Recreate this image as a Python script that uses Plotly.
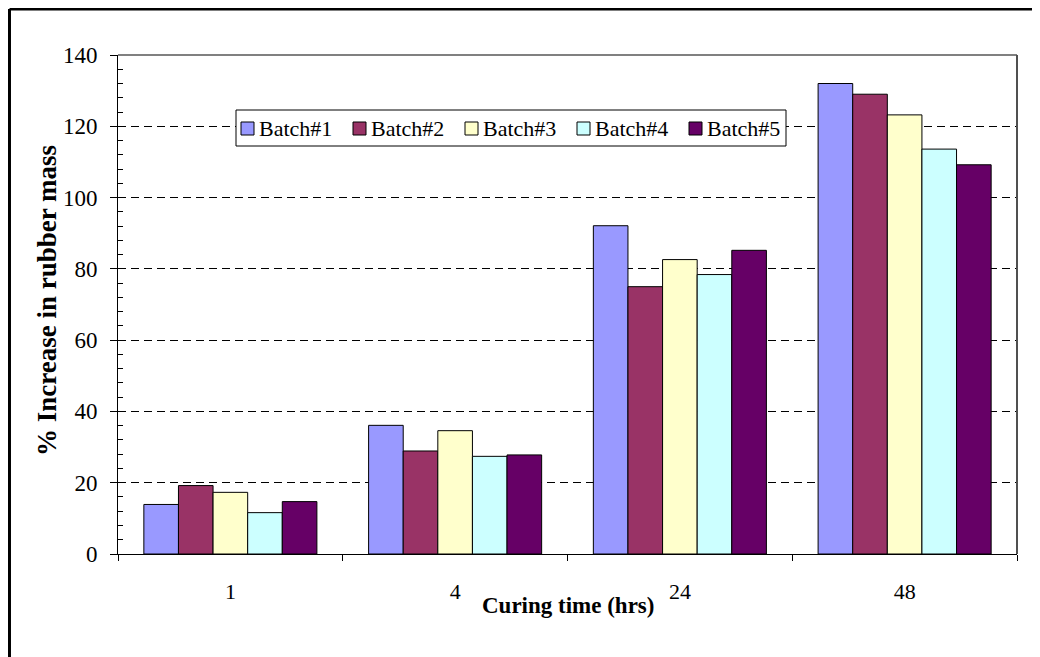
import plotly.graph_objects as go

# curing time categories (hrs)
categories = ["1", "4", "24", "48"]
batches = ["Batch#1", "Batch#2", "Batch#3", "Batch#4", "Batch#5"]

# % increase in rubber mass
batch1 = [13.9, 36.1, 92.1, 132.0]
batch2 = [19.2, 28.9, 75.0, 129.0]
batch3 = [17.3, 34.6, 82.6, 123.2]
batch4 = [11.6, 27.4, 78.4, 113.6]
batch5 = [14.7, 27.8, 85.2, 109.2]
values = [batch1, batch2, batch3, batch4, batch5]

colors = ["#9999FF", "#993366", "#FFFFCC", "#CCFFFF", "#660066"]
FONT = "Liberation Serif, Times New Roman, serif"

# plot area in page pixels (left, top, right, bottom)
PL, PT, PR, PB = 118, 55, 1017, 554


def px2x(px):
    return (px - PL) / (PR - PL)


def px2y(py):
    return (PB - py) / (PB - PT)


fig = go.Figure()
for name, vals, col in zip(batches, values, colors):
    fig.add_trace(go.Bar(
        x=categories, y=vals, name=name,
        marker=dict(color=col, line=dict(color="black", width=1)),
    ))

# page body has an 8px margin, so the figure is a bit smaller
fig.update_layout(
    width=1032, height=649,
    margin=dict(l=110, r=23, t=47, b=103),
    paper_bgcolor="white", plot_bgcolor="white",
    font=dict(family=FONT, size=22, color="black"),
    barmode="group", bargap=0.23, bargroupgap=0,
    showlegend=False,
)

fig.update_xaxes(
    type="category", tickson="boundaries",
    showline=True, linecolor="black", linewidth=1,
    ticks="outside", ticklen=6, tickcolor="black",
    ticklabelstandoff=18, showgrid=False, zeroline=False,
    tickfont=dict(family=FONT, size=22, color="black"),
)

fig.update_yaxes(
    range=[0, 140], dtick=20, tick0=0,
    showline=True, linecolor="black", linewidth=1,
    ticks="outside", ticklen=7, tickcolor="black",
    ticklabelstandoff=8, zeroline=False,
    showgrid=True, gridcolor="black", gridwidth=1, griddash="8px,5px",
    minor=dict(dtick=4, ticks="inside", ticklen=5, tickcolor="black", showgrid=False),
    tickfont=dict(family=FONT, size=23, color="black"),
)

# axis titles
fig.add_annotation(
    text="<b>Curing time (hrs)</b>", xref="paper", yref="paper",
    x=0.5, y=-0.104, xanchor="center", yanchor="middle", showarrow=False,
    font=dict(family=FONT, size=23, color="black"),
)
fig.add_annotation(
    text="<b>% Increase in rubber mass</b>", xref="paper", yref="paper",
    x=-0.079, y=0.509, xanchor="center", yanchor="middle", showarrow=False,
    textangle=-90, font=dict(family=FONT, size=27, color="black"),
)

# grey plot-area box on top/right
fig.add_shape(type="line", xref="paper", yref="paper", x0=0, x1=1, y0=1, y1=1,
              line=dict(color="#808080", width=2), layer="above")
fig.add_shape(type="line", xref="paper", yref="paper", x0=1, x1=1, y0=0, y1=1,
              line=dict(color="#505050", width=2), layer="above")

# legend drawn by hand (Excel style: small swatch, tight text)
fig.add_shape(type="rect", xref="paper", yref="paper",
              x0=px2x(236), x1=px2x(786), y0=px2y(146), y1=px2y(110),
              line=dict(color="black", width=1), fillcolor="white", layer="above")
for i, (name, col) in enumerate(zip(batches, colors)):
    sx = 241 + i * 112
    fig.add_shape(type="rect", xref="paper", yref="paper",
                  x0=px2x(sx), x1=px2x(sx + 13), y0=px2y(135), y1=px2y(122),
                  line=dict(color="black", width=1), fillcolor=col, layer="above")
    fig.add_annotation(text=name, xref="paper", yref="paper",
                       x=px2x(sx + 16), y=px2y(128), xanchor="left", yanchor="middle",
                       showarrow=False, font=dict(family=FONT, size=22, color="black"))

# outer frame (top and left visible)
fig.add_shape(type="line", xref="paper", yref="paper", x0=-0.1207, x1=1.05, y0=1.0922, y1=1.0922,
              line=dict(color="black", width=3))
fig.add_shape(type="line", xref="paper", yref="paper", x0=-0.1207, x1=-0.1207, y0=1.0922, y1=-0.3,
              line=dict(color="black", width=3))

fig.write_html("out.html")
